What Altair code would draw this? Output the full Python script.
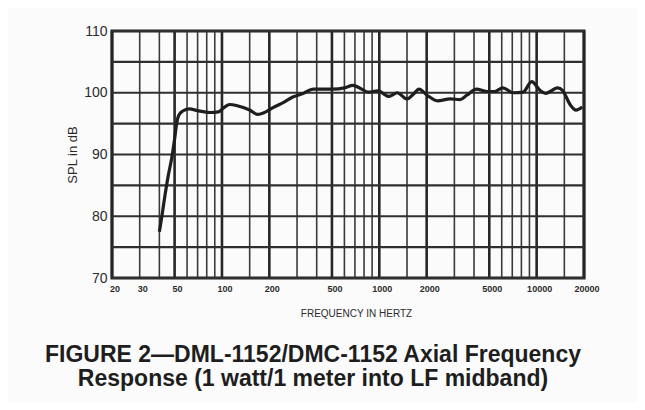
import altair as alt
import pandas as pd

# Response curve
freq = [40, 41.5, 43.5, 45.5, 48, 50, 51.5, 53, 56, 62, 70, 84, 95, 103, 112, 125, 150, 169,
        190, 211, 245, 282, 330, 379, 440, 506, 600, 680, 760, 850, 980, 1150, 1300, 1500,
        1650, 1790, 2010, 2340, 2820, 3260, 3600, 4140, 4830, 5400, 6100, 7100, 8200, 9300,
        10500, 11400, 13600, 14600, 16400, 17800, 19500]
spl = [77.5, 80, 83.5, 86.5, 89.5, 92.5, 95, 96.3, 97.0, 97.4, 97.1, 96.8, 96.9, 97.6, 98.1,
       97.9, 97.2, 96.5, 96.9, 97.6, 98.4, 99.3, 99.9, 100.6, 100.6, 100.6, 100.8, 101.2, 100.7,
       100.1, 100.3, 99.4, 100.0, 99.0, 99.8, 100.6, 99.6, 98.7, 99.0, 98.9, 99.6, 100.6, 100.2,
       100.2, 100.8, 100.0, 100.1, 101.8, 100.4, 99.9, 100.8, 100.4, 98.0, 97.2, 97.7]

# Grid of the chart paper
major_freqs = [20, 50, 100, 200, 500, 1000, 2000, 5000, 10000, 20000]
minor_freqs = [30, 40, 60, 70, 80, 90, 150, 300, 400, 600, 700, 800, 900, 1500, 3000, 4000,
               6000, 7000, 8000, 9000, 15000]
db_lines = [70, 75, 80, 85, 90, 95, 100, 105, 110]

x_labels = [20, 30, 50, 100, 200, 500, 1000, 2000, 5000, 10000, 20000]
x_label_text = ["20", "30", "50", "100", "200", "500", "1000", "2000", "5000", "10000", "20000"]
y_labels = [70, 80, 90, 100, 110]

curve_df = pd.DataFrame({"freq": freq, "spl": spl})
major_df = pd.DataFrame({"freq": major_freqs})
minor_df = pd.DataFrame({"freq": minor_freqs})
hgrid_df = pd.DataFrame({"db": db_lines})
xlab_df = pd.DataFrame({"freq": [float(v) for v in x_labels], "label": x_label_text})

FONT = "Liberation Sans"
INK = "#2b2b2b"

xscale = alt.Scale(type="log", domain=[20, 20000], nice=False)
yscale = alt.Scale(domain=[70, 110], nice=False, zero=False)

xaxis = alt.Axis(values=x_labels, grid=False, ticks=False, tickSize=0, domain=False,
                 labels=False,
                 title="FREQUENCY IN HERTZ", titleFont=FONT, titleFontSize=10,
                 titleFontWeight="normal", titleColor=INK, titlePadding=30, titleX=244)
yaxis = alt.Axis(values=y_labels, grid=False, ticks=False, tickSize=0, domain=False,
                 labelFont=FONT, labelFontSize=14, labelColor=INK, labelPadding=5,
                 labelFlush=False,
                 title="SPL in dB", titleFont=FONT, titleFontSize=13,
                 titleFontWeight="normal", titleColor=INK, titlePadding=4)

def X(field):
    return alt.X(field, type="quantitative", scale=xscale, axis=xaxis)

def Y(field):
    return alt.Y(field, type="quantitative", scale=yscale, axis=yaxis)

minor = alt.Chart(minor_df).mark_rule(color="#3a3a3a", strokeWidth=1.6).encode(x=X("freq:Q"))
major = alt.Chart(major_df).mark_rule(color="#262626", strokeWidth=2.6).encode(x=X("freq:Q"))
hgrid = alt.Chart(hgrid_df).mark_rule(color="#2f2f2f", strokeWidth=2.2).encode(y=Y("db:Q"))

curve = alt.Chart(curve_df).mark_line(color="#1e1e1e", strokeWidth=3.2,
                                      interpolate="monotone").encode(
    x=X("freq:Q"), y=Y("spl:Q"))

xlabels = alt.Chart(xlab_df).mark_text(
    font=FONT, fontSize=9, fontWeight="bold", color=INK, baseline="top",
    align="center", dx=3, dy=7).encode(
    x=X("freq:Q"), y=alt.datum(70, type="quantitative", scale=yscale, axis=yaxis),
    text="label:N")

chart = alt.layer(minor, major, hgrid, curve, xlabels).properties(
    width=472, height=247,
    autosize=alt.AutoSizeParams(type="none"),
    padding={"left": 104, "top": 23, "right": 53, "bottom": 124},
    background="#fbfbfb",
    title=alt.TitleParams(
        text=["FIGURE 2\u2014DML-1152/DMC-1152 Axial Frequency",
              "Response (1 watt/1 meter into LF midband)"],
        orient="bottom", anchor="middle", font=FONT, fontSize=23, fontWeight="bold",
        color="#1e1e1e", lineHeight=24, offset=26, dx=-35),
).configure_view(stroke="#222222", strokeWidth=3)

chart.save("out.html", embed_options={"renderer": "svg", "actions": False})
